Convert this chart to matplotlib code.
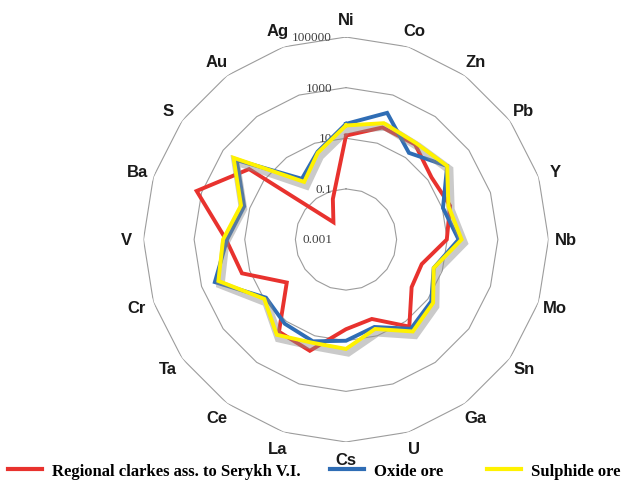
import matplotlib
matplotlib.use('Agg')
import matplotlib.pyplot as plt
import matplotlib.patheffects as pe
import numpy as np

# element order, clockwise from the top
elements = ['Ni', 'Co', 'Zn', 'Pb', 'Y', 'Nb', 'Mo', 'Sn', 'Ga', 'U',
            'Cs', 'La', 'Ce', 'Ta', 'Cr', 'V', 'Ba', 'S', 'Au', 'Ag']

clarkes = [12.7, 45, 44, 15, 21, 9.6, 1.4, 1.6, 18, 2.0,
           3.5, 42, 32, 0.78, 21, 55, 1600, 54, 0.007, 0.048]
oxide_ore = [37, 182, 17, 87, 10.7, 28, 4.4, 14.5, 23, 4.3,
             10, 17, 13, 8.1, 280, 50, 17, 218, 0.92, 4.4]
sulphide_ore = [32, 68, 51, 87, 18, 37, 4.4, 18, 31, 5.2,
                21, 19.5, 45, 9.8, 200, 72, 23, 310, 0.65, 4.0]

ring_values = [0.001, 0.1, 10, 1000, 100000]
ring_labels = ['0.001', '0.1', '10', '1000', '100000']

series_labels = ['Regional clarkes ass. to Serykh V.I.', 'Oxide ore', 'Sulphide ore']
series_colors = ['#e8322e', '#2f6db5', '#fff200']

W, H = 636, 485
fig = plt.figure(figsize=(W / 100, H / 100), dpi=100)
fig.patch.set_facecolor('white')

cx, cy, R = 346, 485 - 240.5, 202.5
ax = fig.add_axes([(cx - R) / W, (cy - R) / H, 2 * R / W, 2 * R / H], projection='polar')
ax.set_theta_zero_location('N')
ax.set_theta_direction(-1)
ax.set_rscale('log')
ax.set_rlim(ring_values[0], ring_values[-1])
ax.grid(False)
ax.set_xticks([])
ax.set_yticks([])
ax.spines['polar'].set_visible(False)
ax.set_facecolor('none')

n = len(elements)
theta = np.arange(n) * 2 * np.pi / n
theta_c = np.append(theta, theta[0])

# polygonal gridlines
for v in ring_values[1:]:
    ax.plot(theta_c, [v] * (n + 1), color='#9c9c9c', lw=0.8, zorder=1)

# ring labels to the left of the vertical axis
for v, lab in zip(ring_values, ring_labels):
    ax.annotate(lab, xy=(0, v), xytext=(-10, 0), textcoords='offset points',
                ha='right', va='center', fontsize=9.5, color='#404040',
                family='Liberation Serif', zorder=2)

# category labels
for t, lab in zip(theta, elements):
    ax.text(t, 10 ** (-3 + 8 * 1.085), lab, ha='center', va='center',
            fontsize=12, fontweight='bold', family='Liberation Sans',
            color='#1a1a1a')

for vals, lab, col, z in zip([clarkes, oxide_ore, sulphide_ore], series_labels,
                             series_colors, [3, 4, 5]):
    vals_c = np.append(vals, vals[0])
    line, = ax.plot(theta_c, vals_c, color=col, lw=2.8, label=lab, zorder=z,
                    solid_joinstyle='miter')
    if z == 5:
        line.set_path_effects([
            pe.SimpleLineShadow(offset=(1.5, -2.5), shadow_color='#8a8a8a',
                                alpha=0.45, linewidth=6),
            pe.Normal()])

# legend entries, one per series along the bottom
legend_x = [8, 330, 487]
for x, lab, col in zip(legend_x, series_labels, series_colors):
    fig.legend(handles=[plt.Line2D([], [], color=col, lw=3)], labels=[lab],
               loc='center left', bbox_to_anchor=(x / W, 13 / H), frameon=False,
               borderpad=0, borderaxespad=0, handlelength=2.05,
               handletextpad=0.6,
               prop={'family': 'Liberation Serif', 'weight': 'bold', 'size': 12})

fig.savefig('out.png', dpi=100, facecolor='white')
